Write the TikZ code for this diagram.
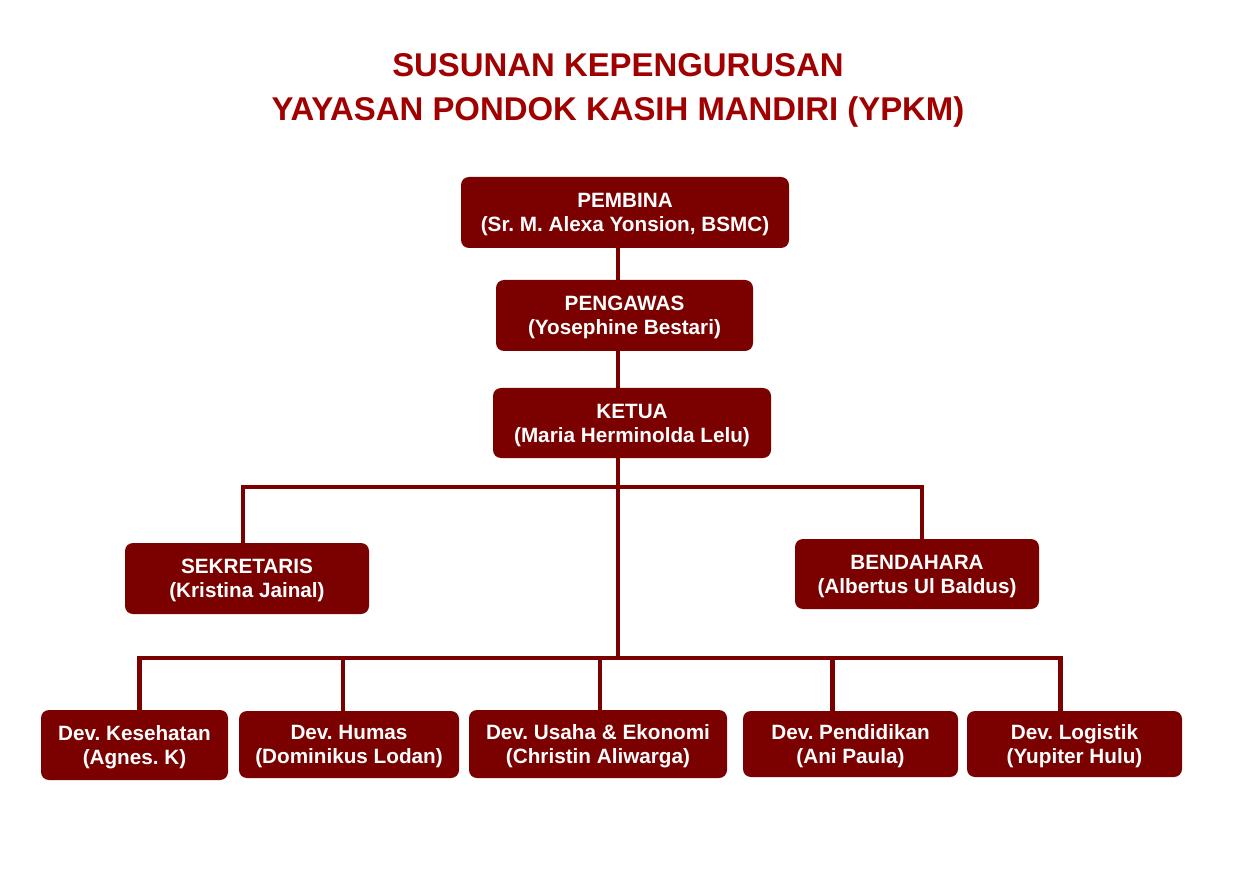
\documentclass[tikz,border=0pt]{standalone}
\usepackage{fontspec}
\setmainfont{Liberation Sans}
\usepackage{tikz}
\usetikzlibrary{calc}
\usepackage{xcolor}
\definecolor{ypkmred}{HTML}{7B0000}
\definecolor{titlered}{HTML}{A00000}
\frenchspacing
\tikzstyle{ypkmbox}=[fill=ypkmred, text=white, rounded corners=8pt, align=center, inner sep=0pt, text depth=-8pt, font=\fontsize{20.7}{24}\selectfont\bfseries]
\tikzstyle{ypkmline}=[draw=ypkmred, line width=4.5pt]
\tikzstyle{ypkmtitle}=[text=titlered, anchor=base, inner sep=0pt, font=\fontsize{32.9}{44}\selectfont\bfseries]

\begin{document}
\begin{tikzpicture}[x=1pt, y=-1pt]
\useasboundingbox (0,0) rectangle (1242,874);
\node[ypkmtitle] (title1) at (618,77) {SUSUNAN KEPENGURUSAN};
\node[ypkmtitle] (title2) at (618,121) {YAYASAN PONDOK KASIH MANDIRI (YPKM)};
\foreach \n/\x/\y/\w/\h/\t in {
 pembina/625/212.5/328/71/{PEMBINA\\(Sr. M. Alexa Yonsion, BSMC)},
 pengawas/624.5/315.5/257/71/{PENGAWAS\\(Yosephine Bestari)},
 ketua/632/423/278/70/{KETUA\\(Maria Herminolda Lelu)},
 sekretaris/247/578.5/244/71/{SEKRETARIS\\(Kristina Jainal)},
 bendahara/917/574/244/70/{BENDAHARA\\(Albertus Ul Baldus)},
 kesehatan/134.5/745/187/70/{Dev. Kesehatan\\(Agnes. K)},
 humas/349/744.5/220/67/{Dev. Humas\\(Dominikus Lodan)},
 usaha/598/744/258/68/{Dev. Usaha \& Ekonomi\\(Christin Aliwarga)},
 pendidikan/850.5/744/215/66/{Dev. Pendidikan\\(Ani Paula)},
 logistik/1074.5/744/215/66/{Dev. Logistik\\(Yupiter Hulu)}} {
 \node[ypkmbox, minimum width=\w, minimum height=\h] (\n) at (\x,\y) {\t};
}
\coordinate (bus1) at (618,487);
\coordinate (bus2) at (618,658);
\draw[ypkmline] (pembina.south -| bus1) -- (pengawas.north -| bus1);
\draw[ypkmline] (pengawas.south -| bus1) -- (ketua.north -| bus1);
\draw[ypkmline] (ketua.south -| bus1) -- (bus2);
\draw[ypkmline] ([xshift=-4pt]sekretaris.north) |- (bus1) -| ([xshift=5pt]bendahara.north);
\draw[ypkmline] ([xshift=5pt]kesehatan.north) |- (bus2) -| ([xshift=-14pt]logistik.north);
\foreach \n/\s in {humas/-6, usaha/2, pendidikan/-18} {
 \draw[ypkmline] ([xshift=\s pt]\n.north) |- (bus2);
}
\end{tikzpicture}
\end{document}
